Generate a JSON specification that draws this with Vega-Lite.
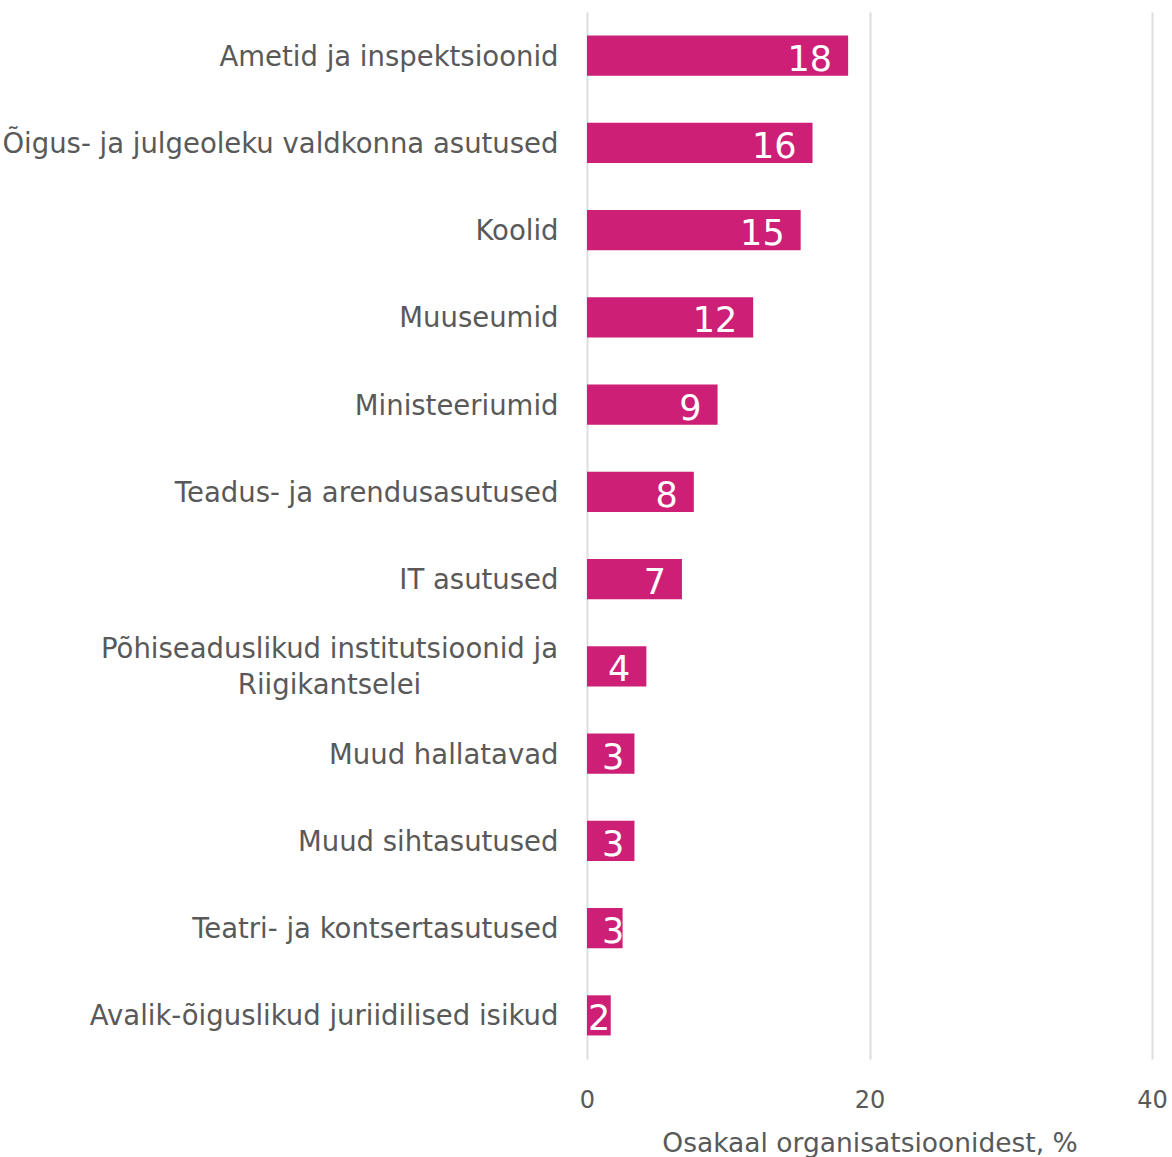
{
  "$schema": "https://vega.github.io/schema/vega-lite/v6.json",
  "autosize": {"type": "none"},
  "width": 565,
  "height": 1047,
  "padding": {"left": 587, "top": 12, "right": 20, "bottom": 98},
  "background": "white",
  "config": {
    "font": "DejaVu Sans",
    "view": {"stroke": null},
    "axis": {"labelColor": "#595959", "titleColor": "#595959", "labelFont": "DejaVu Sans", "titleFont": "DejaVu Sans"}
  },
  "data": {
    "values": [
      {"category": "Ametid ja inspektsioonid", "value": 18.487},
      {"category": "Õigus- ja julgeoleku valdkonna asutused", "value": 15.966},
      {"category": "Koolid", "value": 15.126},
      {"category": "Muuseumid", "value": 11.765},
      {"category": "Ministeeriumid", "value": 9.244},
      {"category": "Teadus- ja arendusasutused", "value": 7.563},
      {"category": "IT asutused", "value": 6.723},
      {"category": "Põhiseaduslikud institutsioonid ja Riigikantselei", "value": 4.202},
      {"category": "Muud hallatavad", "value": 3.361},
      {"category": "Muud sihtasutused", "value": 3.361},
      {"category": "Teatri- ja kontsertasutused", "value": 2.521},
      {"category": "Avalik-õiguslikud juriidilised isikud", "value": 1.681}
    ]
  },
  "encoding": {
    "y": {
      "field": "category",
      "type": "nominal",
      "sort": null,
      "title": null,
      "scale": {"paddingInner": 0.54, "paddingOuter": 0.27},
      "axis": {
        "domain": false,
        "ticks": false,
        "labelFontSize": 27.5,
        "labelLimit": 700,
        "labelLineHeight": 36,
        "labelExpr": "datum.label == 'Põhiseaduslikud institutsioonid ja Riigikantselei' ? ['Põhiseaduslikud institutsioonid ja', 'Riigikantselei'] : datum.label",
        "labelAlign": {"condition": {"test": "indexof(datum.value, 'Põhiseaduslikud') == 0", "value": "center"}, "value": "right"},
        "labelPadding": {"condition": {"test": "indexof(datum.value, 'Põhiseaduslikud') == 0", "value": 258}, "value": 29},
        "labelOffset": {"condition": {"test": "indexof(datum.value, 'Põhiseaduslikud') == 0", "value": -16}, "value": 2}
      }
    }
  },
  "layer": [
    {
      "mark": {"type": "bar", "color": "#CD1F76"},
      "encoding": {
        "x": {
          "field": "value",
          "type": "quantitative",
          "scale": {"domain": [0, 40], "nice": false},
          "title": "Osakaal organisatsioonidest, %",
          "axis": {
            "values": [0, 20, 40],
            "domain": false,
            "ticks": false,
            "grid": true,
            "gridColor": "#dedede",
            "gridWidth": 2,
            "labelFlush": false,
            "labelFontSize": 24,
            "labelPadding": 29,
            "titleFontSize": 26.5,
            "titleFontWeight": "normal",
            "titlePadding": 18
          }
        }
      }
    },
    {
      "transform": [{"filter": "datum.value >= 4"}],
      "mark": {"type": "text", "align": "right", "baseline": "middle", "dx": -16, "dy": 4, "color": "white", "fontSize": 35, "font": "DejaVu Sans"},
      "encoding": {
        "x": {"field": "value", "type": "quantitative"},
        "text": {"field": "value", "type": "quantitative", "format": ".0f"}
      }
    },
    {
      "transform": [{"filter": "datum.value >= 2 && datum.value < 4"}],
      "mark": {"type": "text", "align": "left", "baseline": "middle", "dx": 15, "dy": 4, "color": "white", "fontSize": 35, "font": "DejaVu Sans"},
      "encoding": {
        "x": {"datum": 0, "type": "quantitative"},
        "text": {"field": "value", "type": "quantitative", "format": ".0f"}
      }
    },
    {
      "transform": [{"filter": "datum.value < 2"}],
      "mark": {"type": "text", "align": "left", "baseline": "middle", "dx": 1, "dy": 4, "color": "white", "fontSize": 35, "font": "DejaVu Sans"},
      "encoding": {
        "x": {"datum": 0, "type": "quantitative"},
        "text": {"field": "value", "type": "quantitative", "format": ".0f"}
      }
    }
  ]
}
